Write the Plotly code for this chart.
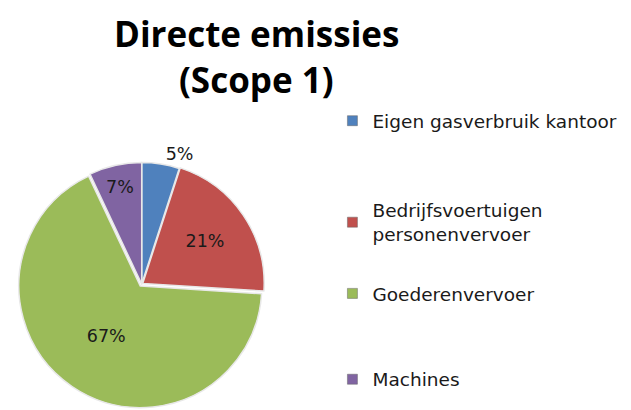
import plotly.graph_objects as go

categories = ["Eigen gasverbruik kantoor", "Bedrijfsvoertuigen<br>personenvervoer", "Goederenvervoer", "Machines"]
values = [5, 21, 67, 7]
colors = ["#4F81BD", "#C0504D", "#9BBB59", "#8064A2"]
title_lines = ["Directe emissies", "(Scope 1)"]

FONT = "Open Sans"
LFONT = "DejaVu Sans"

fig = go.Figure()
fig.add_trace(go.Pie(
    labels=categories,
    values=values,
    sort=False,
    direction="clockwise",
    rotation=0,
    marker=dict(colors=colors, line=dict(color="#E8E8E8", width=1.5)),
    textinfo="percent",
    textposition=["outside", "inside", "inside", "inside"],
    insidetextorientation="horizontal",
    textfont=dict(family=LFONT, size=17.5, color="#1a1a1a"),
    pull=[0, 0.01, 0.02, 0],
    showlegend=False,
    domain=dict(x=[0, 0.401], y=[0, 1 - 156 / 410]),
    hoverinfo="label+percent",
))

legend_y = [116, 220, 293, 381]
legend_names = ["legend", "legend2", "legend3", "legend4"]
for i, (cat, col) in enumerate(zip(categories, colors)):
    fig.add_trace(go.Scatter(
        x=[None], y=[None], mode="markers", name=cat,
        marker=dict(symbol="square", size=10, color=col, line=dict(color="#666", width=0.5)),
        legend=legend_names[i], showlegend=True,
    ))

layout_legends = {}
for i, ln in enumerate(legend_names):
    layout_legends[ln] = dict(
        x=320 / 631, xanchor="left",
        y=1 - legend_y[i] / 410, yanchor="middle",
        font=dict(family=LFONT, size=18.5, color="#1a1a1a"),
        bgcolor="rgba(0,0,0,0)",
    )

annotations = [
    dict(text="<b>" + title_lines[0] + "</b>", x=243 / 631, y=1, xref="paper", yref="paper",
         xanchor="center", yanchor="top", showarrow=False,
         font=dict(family=FONT, size=35, color="black")),
    dict(text="<b>" + title_lines[1] + "</b>", x=243 / 631, y=1 - 73 / 410, xref="paper", yref="paper",
         xanchor="center", yanchor="middle", showarrow=False,
         font=dict(family=FONT, size=35, color="black")),
]

fig.update_layout(
    width=631, height=410,
    margin=dict(l=0, r=0, t=0, b=0),
    paper_bgcolor="white", plot_bgcolor="white",
    xaxis=dict(visible=False), yaxis=dict(visible=False),
    annotations=annotations,
    **layout_legends,
)

fig.write_html("out.html")
